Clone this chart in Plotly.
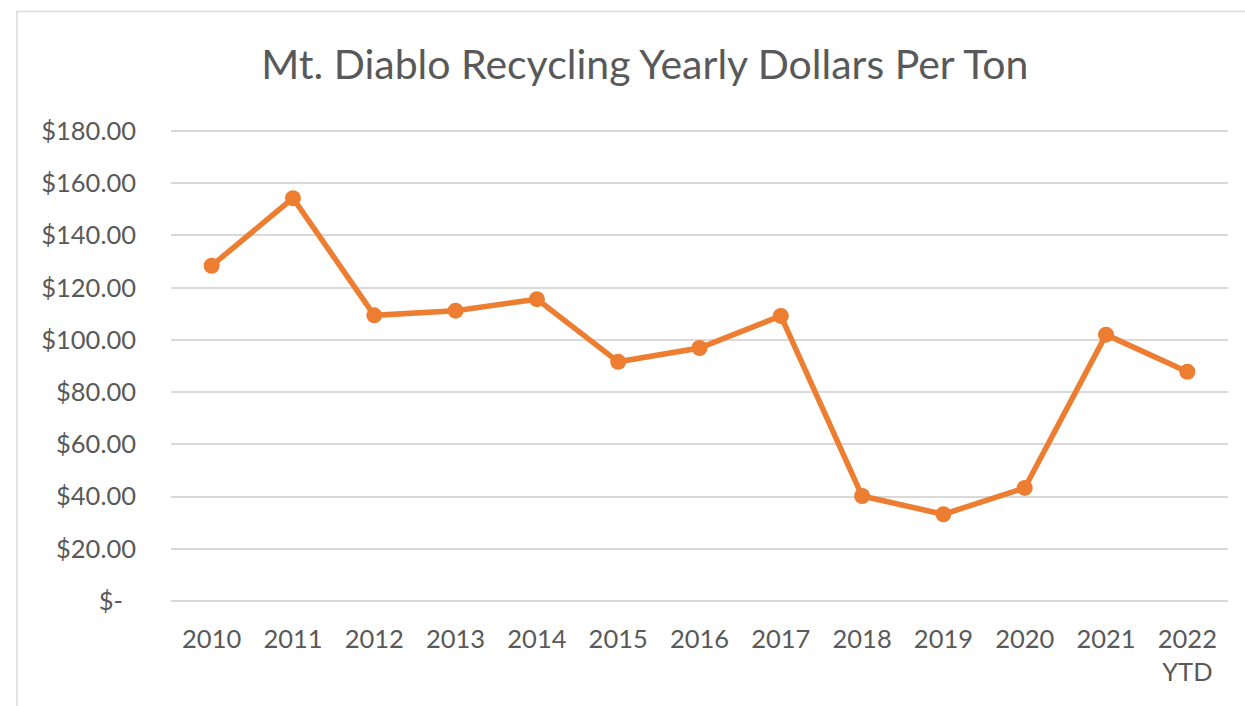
import plotly.graph_objects as go

categories = ["2010", "2011", "2012", "2013", "2014", "2015", "2016",
              "2017", "2018", "2019", "2020", "2021", "2022<br>YTD"]
dollars_per_ton = [128.4, 154.3, 109.4, 111.2, 115.6, 91.6, 96.9,
                   109.2, 40.2, 33.2, 43.3, 102.0, 87.8]
y_tickvals = [0, 20, 40, 60, 80, 100, 120, 140, 160, 180]
y_ticktext = ["$-\u00a0\u00a0", "$20.00", "$40.00", "$60.00", "$80.00", "$100.00",
              "$120.00", "$140.00", "$160.00", "$180.00"]
title_text = "Mt. Diablo Recycling Yearly Dollars Per Ton"

FONT = "Lato"
TXT = "#595959"
ORANGE = "#ED7D31"

fig = go.Figure()
fig.add_trace(go.Scatter(
    x=list(range(len(categories))), y=dollars_per_ton,
    mode="lines+markers",
    line=dict(color=ORANGE, width=5.5),
    marker=dict(color=ORANGE, size=16),
    showlegend=False,
))

fig.update_layout(
    width=1245, height=706,
    margin=dict(l=171, r=17, t=130, b=104),
    paper_bgcolor="white", plot_bgcolor="white",
    title=dict(text=title_text, x=0.518, xanchor="center", y=0.909, yanchor="middle",
               font=dict(family=FONT, size=41, color=TXT)),
    font=dict(family=FONT, color=TXT),
    xaxis=dict(
        range=[-0.5, 12.5], tickmode="array",
        tickvals=list(range(len(categories))), ticktext=categories,
        showgrid=False, zeroline=False, showline=False, ticks="",
        tickfont=dict(family=FONT, size=25.5, color=TXT),
        ticklabelstandoff=19,
    ),
    yaxis=dict(
        range=[-0.4, 180.4], tickmode="array", tickvals=y_tickvals, ticktext=y_ticktext,
        showgrid=True, gridcolor="#D9D9D9", gridwidth=1.5,
        zeroline=False, showline=False, ticks="",
        tickfont=dict(family=FONT, size=25.5, color=TXT),
        ticklabelstandoff=34,
    ),
    shapes=[dict(type="rect", xref="paper", yref="paper",
                 x0=(17 - 171) / 1057, x1=(1260 - 171) / 1057,
                 y0=(602 - 720) / 472, y1=(602 - 11.5) / 472,
                 line=dict(color="#D9D9D9", width=1.5), fillcolor="rgba(0,0,0,0)",
                 layer="below")],
)

fig.write_html("out.html")
